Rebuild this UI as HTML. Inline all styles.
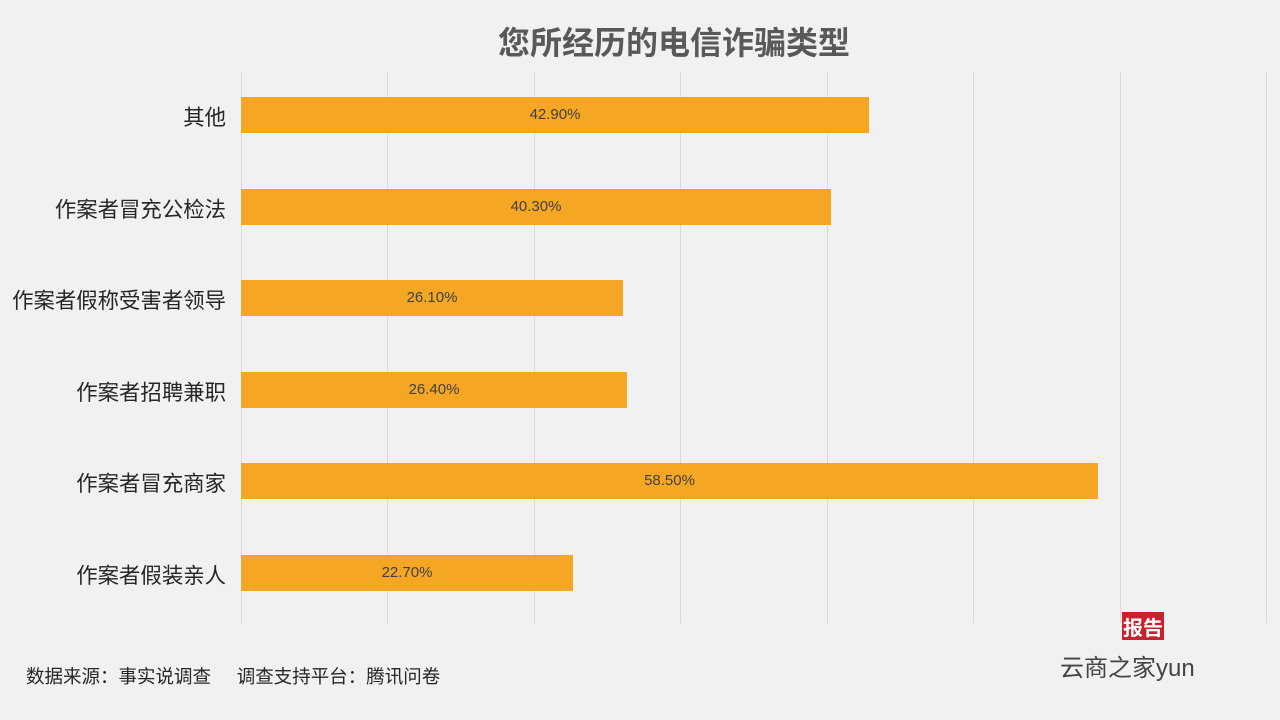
<!DOCTYPE html>
<html><head><meta charset="utf-8"><style>
body{margin:0;width:1280px;height:720px;background:#f2f1f2;overflow:hidden;position:relative;font-family:"Liberation Sans","Noto Sans CJK SC",sans-serif}
.g{position:absolute;top:72px;height:551px;width:1px;background:#d9d9d9}
.b{position:absolute;left:241px;height:36px;background:#f5a623}
.b span{position:absolute;width:100%;text-align:center;top:9px;font-size:15px;color:#404040}
.l{position:absolute;right:1054px;font-size:21.4px;color:#262626;white-space:nowrap;line-height:24px}
</style></head><body>
<div style="position:absolute;top:18px;left:498px;font-size:32px;font-weight:bold;color:#595959;white-space:nowrap">您所经历的电信诈骗类型</div>
<div class="g" style="left:241px"></div><div class="g" style="left:387px"></div><div class="g" style="left:534px"></div><div class="g" style="left:680px"></div><div class="g" style="left:827px"></div><div class="g" style="left:973px"></div><div class="g" style="left:1120px"></div><div class="g" style="left:1266px"></div>
<div class="b" style="top:97px;width:628px"><span>42.90%</span></div><div class="l" style="top:106px">其他</div>
<div class="b" style="top:189px;width:590px"><span>40.30%</span></div><div class="l" style="top:198px">作案者冒充公检法</div>
<div class="b" style="top:280px;width:382px"><span>26.10%</span></div><div class="l" style="top:289px">作案者假称受害者领导</div>
<div class="b" style="top:372px;width:386px"><span>26.40%</span></div><div class="l" style="top:381px">作案者招聘兼职</div>
<div class="b" style="top:463px;width:857px"><span>58.50%</span></div><div class="l" style="top:472px">作案者冒充商家</div>
<div class="b" style="top:555px;width:332px"><span>22.70%</span></div><div class="l" style="top:564px">作案者假装亲人</div>
<div style="position:absolute;left:26px;top:663px;font-size:18.5px;color:#262626;white-space:nowrap">数据来源：事实说调查&nbsp;&nbsp;&nbsp;&nbsp;&nbsp;调查支持平台：腾讯问卷</div>
<div style="position:absolute;left:1122px;top:612px;width:42px;height:28px;background:#c8232c;color:#fff;font-size:20px;font-weight:bold;text-align:center">报告</div>
<div style="position:absolute;left:1060px;top:648px;font-size:24px;color:#444">云商之家yun</div>
</body></html>
